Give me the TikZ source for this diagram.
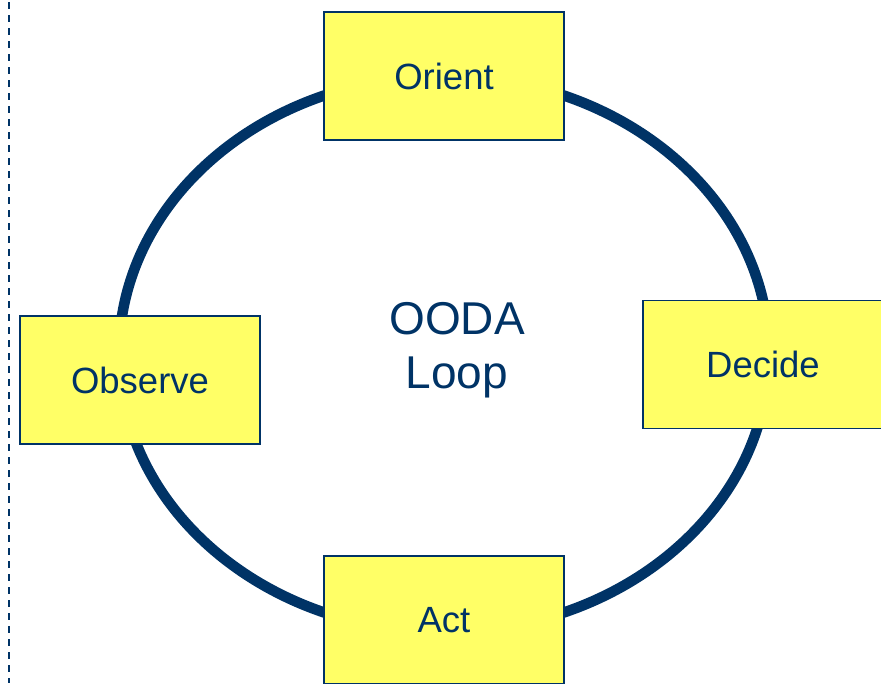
\documentclass[tikz,border=0pt]{standalone}
\usepackage{fontspec}
\setmainfont{Liberation Sans}
\usetikzlibrary{shapes.geometric}
\definecolor{navy}{HTML}{003366}
\definecolor{boxyellow}{HTML}{FFFF66}
\begin{document}
\begin{tikzpicture}[x=1pt,y=-1pt,
  stepbox/.style={rectangle, draw=navy, line width=1.6pt, fill=boxyellow,
    minimum width=240pt, minimum height=128pt, inner sep=0pt,
    text=navy, font=\fontsize{36.5}{40}\selectfont},
  loopline/.style={draw=navy, line width=10.5pt},
  sideline/.style={draw=navy, line width=2pt, dash pattern=on 7pt off 6pt}]
\useasboundingbox (0,0) rectangle (881,683);
\clip (0,0) rectangle (881,683);
\coordinate (dtop) at (8.5,2);
\coordinate (dbot) at (8.5,683);
\draw[sideline] (dtop) -- (dbot);
\node[ellipse, minimum width=650pt, minimum height=556pt, inner sep=0pt, loopline] (loop) at (444,354) {};
\node[text=navy, font=\fontsize{46}{54}\selectfont, align=center] (title) at (457,350) {OODA\\Loop};
\node[stepbox] (orient) at (444,76) {Orient};
\node[stepbox] (observe) at (140,380) {Observe};
\node[stepbox] (decide) at (763,364.5) {Decide};
\node[stepbox] (act) at (444,620) {Act};
\end{tikzpicture}
\end{document}
